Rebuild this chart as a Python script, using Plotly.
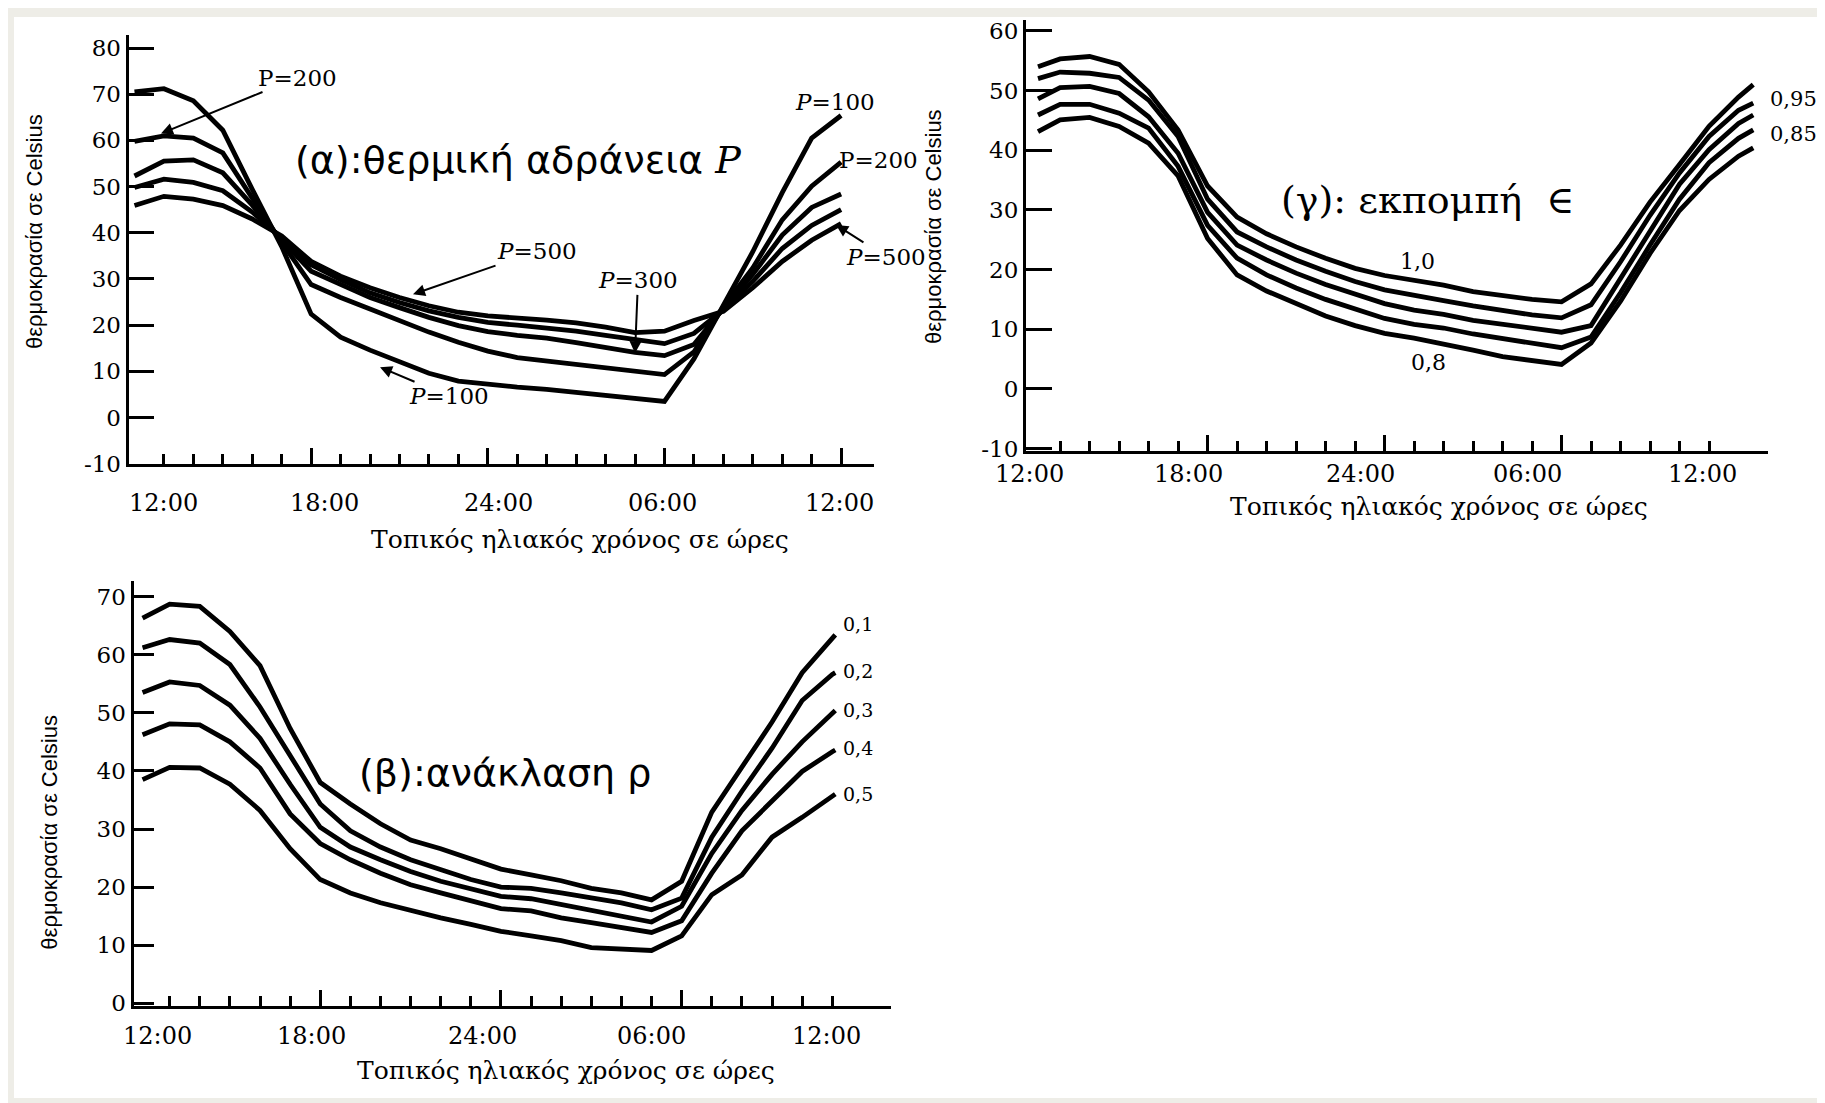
import plotly.graph_objects as go

W, H = 1825, 1103

# ---------------- data ----------------
# (α) thermal inertia P
hours_a = list(range(12, 37))
P100 = [70.5, 71.2, 68.6, 62.2, 49.4, 37.0, 22.4, 17.4, 14.6, 12.1, 9.6, 7.9, 7.2,
        6.6, 6.1, 5.5, 4.9, 4.3, 3.5, 12.7, 24.5, 35.9, 48.7, 60.5, 65.4]
P200 = [59.8, 61.0, 60.5, 57.3, 47.5, 37.9, 28.8, 26.0, 23.5, 21.0, 18.5, 16.3, 14.4,
        13.0, 12.3, 11.5, 10.8, 10.0, 9.3, 14.2, 24.0, 32.4, 42.8, 50.1, 55.3]
P300 = [52.3, 55.5, 55.8, 53.0, 46.0, 38.4, 31.7, 28.8, 26.0, 23.8, 21.7, 19.9, 18.6,
        17.8, 17.2, 16.2, 15.2, 14.1, 13.4, 15.8, 23.6, 31.0, 39.5, 45.5, 48.4]
P400 = [49.8, 51.6, 50.9, 49.1, 44.5, 38.9, 33.1, 29.9, 27.0, 24.9, 23.1, 21.7, 20.6,
        20.0, 19.4, 18.7, 17.8, 16.8, 16.0, 18.2, 23.3, 29.5, 36.6, 41.6, 45.0]
P500 = [45.9, 47.9, 47.3, 45.9, 43.0, 39.3, 33.8, 30.6, 28.1, 26.0, 24.2, 22.8, 22.0,
        21.6, 21.1, 20.5, 19.6, 18.4, 18.7, 21.0, 23.0, 28.1, 33.8, 38.4, 42.0]
series_a = [P100, P200, P300, P400, P500]

# (γ) emissivity ε
hours_g = [12.25] + list(range(13, 37)) + [36.5]
E100 = [54.0, 55.3, 55.7, 54.4, 49.8, 43.4, 34.0, 28.8, 26.0, 23.8, 21.9, 20.2, 19.0,
        18.2, 17.4, 16.3, 15.6, 15.0, 14.6, 17.6, 24.1, 31.3, 37.6, 44.0, 48.9, 51.0]
E095 = [52.0, 53.1, 52.9, 52.2, 48.4, 42.3, 31.8, 26.3, 23.8, 21.6, 19.7, 18.0, 16.6,
        15.6, 14.8, 13.9, 13.1, 12.4, 11.9, 14.1, 21.3, 29.1, 36.2, 42.3, 46.7, 47.9]
E090 = [48.6, 50.5, 50.7, 49.5, 45.6, 39.5, 29.6, 24.1, 21.6, 19.4, 17.5, 15.8, 14.3,
        13.2, 12.5, 11.5, 10.8, 10.0, 9.5, 10.6, 18.6, 26.6, 34.3, 40.1, 44.5, 45.9]
E085 = [45.9, 47.7, 47.7, 46.2, 43.7, 37.3, 27.4, 21.9, 19.1, 16.9, 15.0, 13.3, 11.8,
        10.8, 10.2, 9.2, 8.4, 7.6, 6.9, 8.7, 16.1, 24.1, 31.8, 37.9, 42.0, 43.4]
E080 = [43.1, 45.1, 45.5, 44.0, 41.2, 35.7, 25.2, 19.1, 16.4, 14.2, 12.2, 10.6, 9.3,
        8.5, 7.6, 6.5, 5.4, 4.8, 4.1, 7.7, 14.7, 22.7, 29.9, 35.1, 39.0, 40.4]
series_g = [E100, E095, E090, E085, E080]

# (β) reflectance ρ
hours_b = [12.1] + list(range(13, 36)) + [35.1]
R01 = [66.3, 68.7, 68.3, 64.0, 58.1, 47.3, 38.0, 34.3, 30.9, 28.1, 26.6, 24.9, 23.1,
       22.1, 21.1, 19.8, 19.0, 17.8, 21.0, 32.9, 40.5, 48.4, 56.9, 63.0, 63.4]
R02 = [61.2, 62.6, 62.0, 58.3, 51.0, 42.5, 34.3, 29.7, 26.9, 24.7, 23.0, 21.3, 20.0,
       19.8, 19.0, 18.1, 17.3, 16.1, 18.1, 28.6, 36.5, 43.9, 52.1, 56.6, 56.9]
R03 = [53.5, 55.3, 54.7, 51.3, 45.6, 37.7, 30.3, 26.9, 24.7, 22.7, 21.0, 19.6, 18.4,
       18.0, 17.0, 16.2, 15.0, 14.0, 16.7, 25.8, 33.2, 39.4, 45.0, 50.1, 50.4]
R04 = [46.2, 48.1, 47.9, 45.0, 40.5, 32.6, 27.5, 24.7, 22.4, 20.4, 19.0, 17.6, 16.3,
       15.9, 14.7, 13.9, 13.0, 12.2, 14.2, 22.4, 29.7, 34.8, 39.9, 43.3, 43.6]
R05 = [38.5, 40.6, 40.5, 37.7, 33.2, 26.6, 21.3, 19.0, 17.3, 15.9, 14.7, 13.6, 12.4,
       11.6, 10.8, 9.6, 9.4, 9.1, 11.6, 18.7, 22.1, 28.6, 32.0, 35.7, 36.0]
series_b = [R01, R02, R03, R04, R05]

# tick labels (hour positions where the printed labels sit)
tick_text = ["12:00", "18:00", "24:00", "06:00", "12:00"]
tick_pos_a = [12.99, 18.45, 24.36, 29.94, 35.94]
tick_pos_g = [11.95, 17.35, 23.2, 28.85, 34.77]
tick_pos_b = [12.6, 17.72, 23.4, 29.0, 34.8]
major_hours = [18, 24, 30]
minor_hours = [h for h in range(13, 36) if h not in major_hours]

yticks_a = list(range(-10, 81, 10))
yticks_g = list(range(-10, 61, 10))
yticks_b = list(range(0, 71, 10))

labels_g_night = ["1,0", "0,8"]
labels_g_end = ["0,95", "0,85"]
labels_b_end = ["0,1", "0,2", "0,3", "0,4", "0,5"]

# ---------------- helpers ----------------
def fx(x):
    return x / W

def fy(y):
    return 1 - y / H

SERIF = "DejaVu Serif"
SANS = "DejaVu Sans"
LINE = dict(color="black", width=4.8)

fig = go.Figure()
for s in series_a:
    fig.add_trace(go.Scatter(x=hours_a, y=s, mode="lines", line=LINE, xaxis="x", yaxis="y",
                             hoverinfo="skip"))
for s in series_g:
    fig.add_trace(go.Scatter(x=hours_g, y=s, mode="lines", line=LINE, xaxis="x2", yaxis="y2",
                             hoverinfo="skip"))
for s in series_b:
    fig.add_trace(go.Scatter(x=hours_b, y=s, mode="lines", line=LINE, xaxis="x3", yaxis="y3",
                             hoverinfo="skip"))


def xaxis(domain, rng, anchor, majors):
    return dict(domain=domain, range=rng, anchor=anchor, showline=True, linecolor="black",
                linewidth=3, ticks="inside", tickmode="array", tickvals=majors, ticklen=16,
                tickwidth=2.5, tickcolor="black", showticklabels=False, showgrid=False,
                zeroline=False, fixedrange=True,
                minor=dict(tickmode="array", tickvals=minor_hours, ticks="inside", ticklen=10,
                           tickwidth=2.5, tickcolor="black", showgrid=False))


def yaxis(domain, rng, anchor, tv, tlen):
    return dict(domain=domain, range=rng, anchor=anchor, showline=True, linecolor="black",
                linewidth=3, ticks="inside", tickmode="array", tickvals=tv,
                ticktext=[str(v) for v in tv], ticklen=tlen,
                tickwidth=2.5, tickcolor="black", showgrid=False, zeroline=False,
                tickfont=dict(family=SERIF, size=23, color="black"), fixedrange=True)


fig.update_layout(
    width=W, height=H, autosize=False, margin=dict(l=0, r=0, t=0, b=0),
    paper_bgcolor="#eeede7", plot_bgcolor="rgba(0,0,0,0)", showlegend=False,
    xaxis=xaxis([fx(120.6), fx(865.5)], [11.8, 37.1], "y", major_hours + [36]),
    yaxis=yaxis([fy(460), fy(25)], [-10, 82.9], "x", yticks_a, 25),
    xaxis2=xaxis([fx(1017.9), fx(1760)], [11.84, 37.0], "y2", major_hours),
    yaxis2=yaxis([fy(447), fy(10.3)], [-10.4, 61.8], "x2", yticks_g, 26),
    xaxis3=xaxis([fx(125.5), fx(883)], [11.8, 36.95], "y3", major_hours),
    yaxis3=yaxis([fy(1010), fy(579)], [-0.5, 72.65], "x3", yticks_b, 20),
)

# white page inside the beige scan border
fig.add_shape(type="rect", xref="paper", yref="paper", x0=fx(6), x1=fx(W - 8), y0=0,
              y1=fy(7), fillcolor="white", line=dict(width=0), layer="below")

ann = []

def text(x, y, t, size, family=SERIF, xref="paper", yref="paper", angle=0):
    ann.append(dict(x=x, y=y, xref=xref, yref=yref, text=t, showarrow=False,
                    textangle=angle, font=dict(family=family, size=size, color="black"),
                    xanchor="center", yanchor="middle"))

# x tick labels
for xr, pos, ypx in (("x", tick_pos_a, 500), ("x2", tick_pos_g, 470), ("x3", tick_pos_b, 1040)):
    for p, t in zip(pos, tick_text):
        text(p, fy(ypx), t, 24, xref=xr)

# axis titles
xtitle = "Τοπικός ηλιακός χρόνος σε ώρες"
ytitle = "θερμοκρασία σε Celsius"
text(fx(572), fy(537), xtitle, 25)
text(fx(1431), fy(503), xtitle, 25)
text(fx(558), fy(1075), xtitle, 25)
text(fx(27), fy(225), ytitle, 22, family="Liberation Sans", angle=-90)
text(fx(925), fy(220), ytitle, 22, family="Liberation Sans", angle=-90)
text(fx(42), fy(834), ytitle, 22, family="Liberation Sans", angle=-90)

# panel titles
ital_P = "<span style='font-family:DejaVu Serif'><i>P</i></span>"
text(fx(510), fy(152), "(α):θερμική αδράνεια " + ital_P, 38, family=SANS)
text(fx(1419), fy(193), "(γ): εκπομπή  ∈", 38, family=SERIF)
text(fx(497), fy(774), "(β):ανάκλαση ρ", 38, family=SANS)

# curve labels (γ)
text(fx(1409), fy(255), labels_g_night[0], 22)
text(fx(1420), fy(357), labels_g_night[1], 22)
text(fx(1785), fy(90), labels_g_end[0], 21)
text(fx(1785), fy(126), labels_g_end[1], 21)
# curve labels (β)
for t, ypx in zip(labels_b_end, [622, 670, 710, 748, 795]):
    text(fx(850), fy(ypx), t, 19)

# curve labels (α)
text(fx(827), fy(93), "<i>P</i>=100", 23)
text(fx(870), fy(152), "P=200", 23)


def arrow(x, y, ax, ay, t):
    ann.append(dict(x=x, y=y, xref="x", yref="y", ax=ax, ay=ay, text=t, showarrow=True,
                    arrowhead=2, arrowsize=1.2, arrowwidth=2, arrowcolor="black",
                    standoff=0, startstandoff=0,
                    font=dict(family=SERIF, size=23, color="black")))

arrow(12.9, 61.5, 137, -56, "P=200")
arrow(21.46, 26.7, 124, -43, "<i>P</i>=500")
arrow(29.0, 13.9, 3, -73, "<i>P</i>=300")
arrow(20.34, 10.9, 69, 29, "<i>P</i>=100")
arrow(35.83, 41.7, 50, 32, "<i>P</i>=500")

fig.update_layout(annotations=ann)
fig.write_html("out.html")
